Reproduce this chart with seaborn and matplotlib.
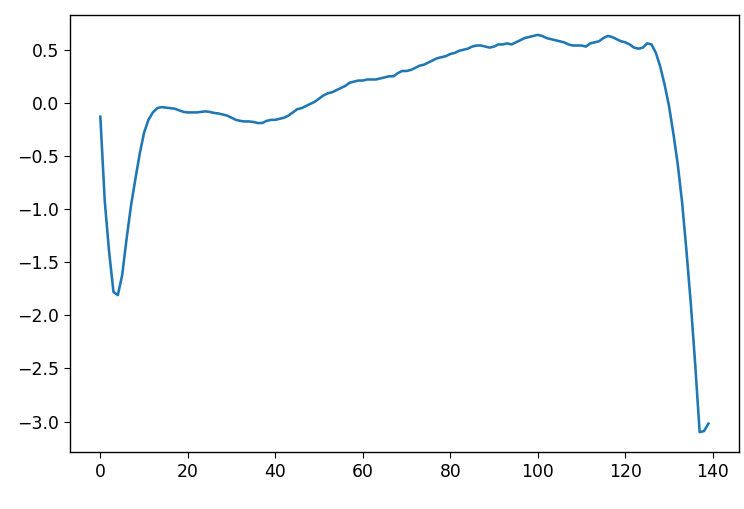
import numpy as np
import pandas as pd
import matplotlib
matplotlib.use("Agg")
import matplotlib.pyplot as plt
import seaborn as sns

# Single heartbeat trace, 140 samples
signal = [
    -0.13, -0.92, -1.40, -1.78, -1.81, -1.62, -1.28, -0.97, -0.72, -0.48,
    -0.28, -0.16, -0.09, -0.05, -0.04, -0.045, -0.05, -0.055, -0.07, -0.085,
    -0.09, -0.09, -0.09, -0.085, -0.08, -0.085, -0.095, -0.10, -0.11, -0.12,
    -0.14, -0.16, -0.17, -0.175, -0.175, -0.18, -0.19, -0.19, -0.17, -0.16,
    -0.16, -0.15, -0.14, -0.12, -0.09, -0.06, -0.05, -0.03, -0.01, 0.01,
    0.04, 0.07, 0.09, 0.10, 0.12, 0.14, 0.16, 0.19, 0.20, 0.21,
    0.21, 0.22, 0.22, 0.22, 0.23, 0.24, 0.25, 0.25, 0.28, 0.30,
    0.30, 0.31, 0.33, 0.35, 0.36, 0.38, 0.40, 0.42, 0.43, 0.44,
    0.46, 0.47, 0.49, 0.50, 0.51, 0.53, 0.54, 0.54, 0.53, 0.52,
    0.53, 0.55, 0.55, 0.56, 0.55, 0.57, 0.59, 0.61, 0.62, 0.63,
    0.64, 0.63, 0.61, 0.60, 0.59, 0.58, 0.57, 0.55, 0.54, 0.54,
    0.54, 0.53, 0.56, 0.57, 0.58, 0.61, 0.63, 0.62, 0.60, 0.58,
    0.57, 0.55, 0.52, 0.51, 0.52, 0.56, 0.55, 0.47, 0.34, 0.17,
    -0.03, -0.29, -0.58, -0.94, -1.40, -1.90, -2.47, -3.10, -3.09, -3.02,
]
steps = list(range(len(signal)))

scale = 1.24
plt.rcParams["font.size"] = 10 * scale
plt.rcParams["xtick.major.size"] = 3.5 * scale
plt.rcParams["ytick.major.size"] = 3.5 * scale
plt.rcParams["axes.linewidth"] = 0.8 * scale

df = pd.DataFrame({"step": steps, "value": signal})

fig = plt.figure(figsize=(7.44, 5.09), dpi=100)
ax = fig.add_axes([0.094, 0.112, 0.899, 0.8585])
sns.lineplot(data=df, x="step", y="value", color="#1f77b4", linewidth=1.5 * scale, ax=ax)

ax.set_xlabel("")
ax.set_ylabel("")
ax.set_xticks([0, 20, 40, 60, 80, 100, 120, 140])
ax.set_yticks([0.5, 0.0, -0.5, -1.0, -1.5, -2.0, -2.5, -3.0])

plt.savefig("out.png", dpi=100)
plt.close()
